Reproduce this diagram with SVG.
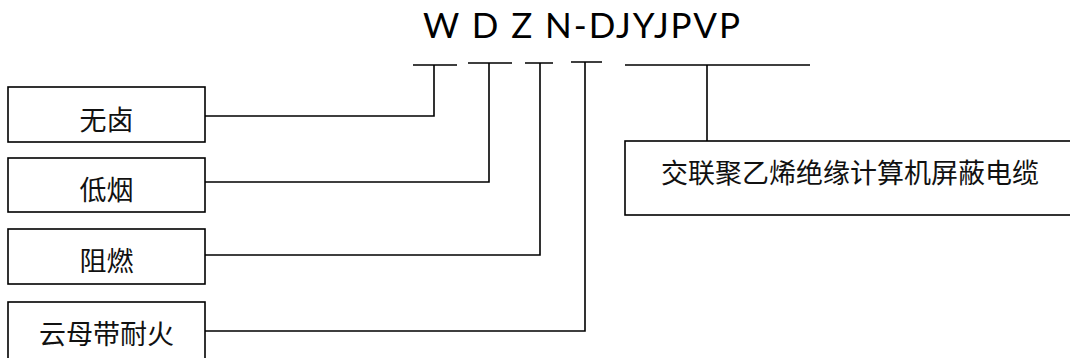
<svg xmlns="http://www.w3.org/2000/svg" width="1070" height="358" viewBox="0 0 1070 358">
<style>
.box{fill:#fff;stroke:#000;stroke-width:1.6}
.lbl{font-family:"Noto Sans CJK SC","Noto Sans CJK JP",sans-serif;font-size:27px;fill:#111;text-anchor:middle}
.title{font-family:Lato,"Open Sans","Liberation Sans",sans-serif;font-size:35px;fill:#000}
.con{fill:none;stroke:#000;stroke-width:1.6}
</style>
<rect width="1070" height="358" fill="#fff"/>
<text class="title" x="423" y="38" textLength="317" lengthAdjust="spacing">W D Z N-DJYJPVP</text>
<g id="connectors">
<path class="con" d="M413 65H457M434 65V116H205"/>
<path class="con" d="M468 63H512M489 63V182H205"/>
<path class="con" d="M525 63H553M540 63V255H205"/>
<path class="con" d="M571 62H602M585 62V331H205"/>
<path class="con" d="M625 65H810M707 65V141"/>
</g>
<g id="n1"><rect class="box" x="8" y="87" width="197" height="55"/><text class="lbl" x="106.5" y="130">无卤</text></g>
<g id="n2"><rect class="box" x="8" y="158" width="197" height="54"/><text class="lbl" x="106.5" y="200">低烟</text></g>
<g id="n3"><rect class="box" x="8" y="229" width="197" height="55"/><text class="lbl" x="106.5" y="271">阻燃</text></g>
<g id="n4"><rect class="box" x="8" y="302" width="197" height="70"/><text class="lbl" x="106.5" y="344">云母带耐火</text></g>
<g id="n5"><rect class="box" x="625" y="141" width="460" height="74"/><text class="lbl" x="850" y="183">交联聚乙烯绝缘计算机屏蔽电缆</text></g>
</svg>
